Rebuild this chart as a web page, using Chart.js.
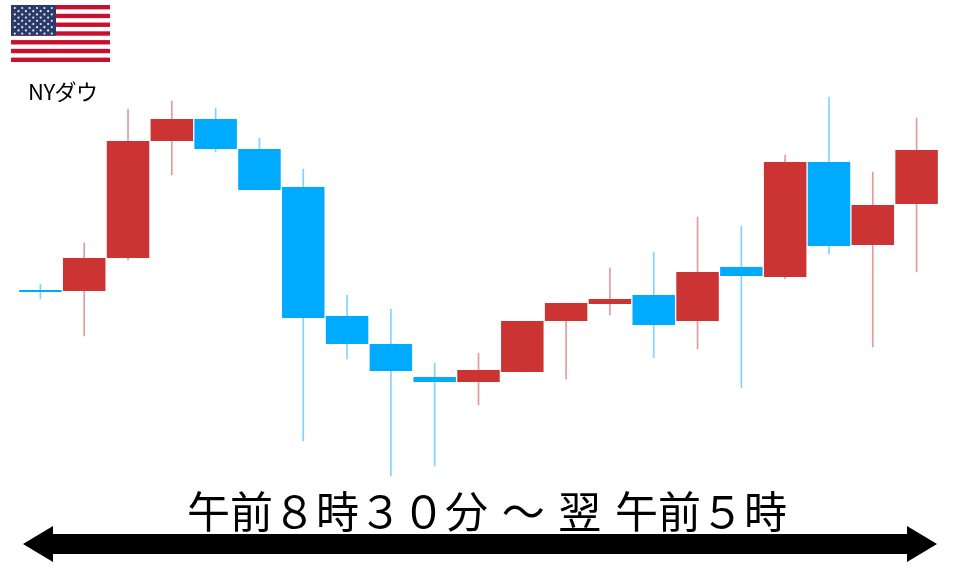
<!DOCTYPE html>
<html lang="ja">
<head>
<meta charset="utf-8">
<title>NYダウ</title>
<script src="https://cdn.jsdelivr.net/npm/chart.js@4/dist/chart.umd.min.js"></script>
<style>
html,body{margin:0;padding:0;background:#fff;width:960px;height:567px;overflow:hidden}
#wrap{position:relative;width:960px;height:567px}
canvas{position:absolute;left:0;top:0}
.t{position:absolute;color:#000;font-family:"Noto Sans CJK JP","Noto Sans",sans-serif;white-space:pre;line-height:1}
#name{left:28px;top:79px;font-size:22px;letter-spacing:-0.5px}
#span{left:187px;top:488px;font-size:43px;word-spacing:4px}
</style>
</head>
<body>
<div id="wrap">
<canvas id="c" width="960" height="567"></canvas>
<div class="t" id="name">NYダウ</div>
<div class="t" id="span">午前８時３０分 ～ 翌 午前５時</div>
</div>
<script>
const categories = ['1','2','3','4','5','6','7','8','9','10','11','12','13','14','15','16','17','18','19','20','21'];
const opens  = [277,276,309,426,448,418,380,251,223,190,185,195,246,263,272,246,300,290,405,322,363];
const closes = [275,309,426,448,418,377,249,223,196,185,197,246,264,268,242,295,291,405,321,362,417];
const highs  = [283,324,458,466,459,429,398,272,258,204,214,246,264,299,315,350,341,412,470,395,449];
const lows   = [268,231,307,392,415,377,126,208, 91,101,162,195,188,252,209,218,179,288,313,220,295];

const RED = '#cc3333', BLUE = '#00aaff';
const RED_WICK = 'rgba(204,51,51,0.5)', BLUE_WICK = 'rgba(0,170,255,0.5)';
const up = closes.map((c, i) => c > opens[i]);

function drawFlag(ctx) {
  const x = 11, y = 5, w = 99, h = 57, sh = h / 13;
  ctx.fillStyle = '#ffffff';
  ctx.fillRect(x, y, w, h);
  ctx.fillStyle = '#c8102e';
  for (let i = 0; i < 13; i += 2) ctx.fillRect(x, y + i * sh, w, sh);
  ctx.fillStyle = '#2b3a6b';
  ctx.fillRect(x, y, 45, 7 * sh);
  ctx.fillStyle = '#e6e8f0';
  for (let r = 0; r < 9; r++) {
    const n = r % 2 ? 5 : 6;
    for (let s = 0; s < n; s++) {
      ctx.beginPath();
      ctx.arc(x + 3.8 + (r % 2 ? 3.7 : 0) + s * 7.4, y + 3 + r * 3.2, 1.1, 0, Math.PI * 2);
      ctx.fill();
    }
  }
}
function drawArrow(ctx) {
  ctx.fillStyle = '#000';
  ctx.beginPath();
  ctx.moveTo(23, 544); ctx.lineTo(53, 526); ctx.lineTo(53, 534);
  ctx.lineTo(907, 534); ctx.lineTo(907, 526); ctx.lineTo(937, 544);
  ctx.lineTo(907, 562); ctx.lineTo(907, 554); ctx.lineTo(53, 554);
  ctx.lineTo(53, 562); ctx.closePath();
  ctx.fill();
}
const decor = {
  id: 'decor',
  afterDraw(chart) {
    const ctx = chart.ctx;
    ctx.save();
    drawFlag(ctx);
    drawArrow(ctx);
    ctx.restore();
  }
};

new Chart(document.getElementById('c'), {
  type: 'bar',
  data: {
    labels: categories,
    datasets: [
      {
        label: '実体',
        data: opens.map((o, i) => [o, closes[i]]),
        backgroundColor: up.map(u => u ? RED : BLUE),
        borderWidth: 0,
        grouped: false,
        barPercentage: 0.97,
        categoryPercentage: 1,
        order: 1
      },
      {
        label: 'ヒゲ',
        data: highs.map((h, i) => [lows[i], h]),
        backgroundColor: up.map(u => u ? RED_WICK : BLUE_WICK),
        borderWidth: 0,
        grouped: false,
        barThickness: 1,
        order: 2
      }
    ]
  },
  options: {
    responsive: false,
    animation: false,
    layout: { padding: { left: 18.5, right: 21.5, top: 0, bottom: 0 } },
    plugins: { legend: { display: false }, tooltip: { enabled: false }, title: { display: false } },
    scales: {
      x: { stacked: false, display: false, offset: true, grid: { display: false } },
      y: { display: false, min: 0, max: 567, grid: { display: false } }
    }
  },
  plugins: [decor]
});
</script>
</body>
</html>
